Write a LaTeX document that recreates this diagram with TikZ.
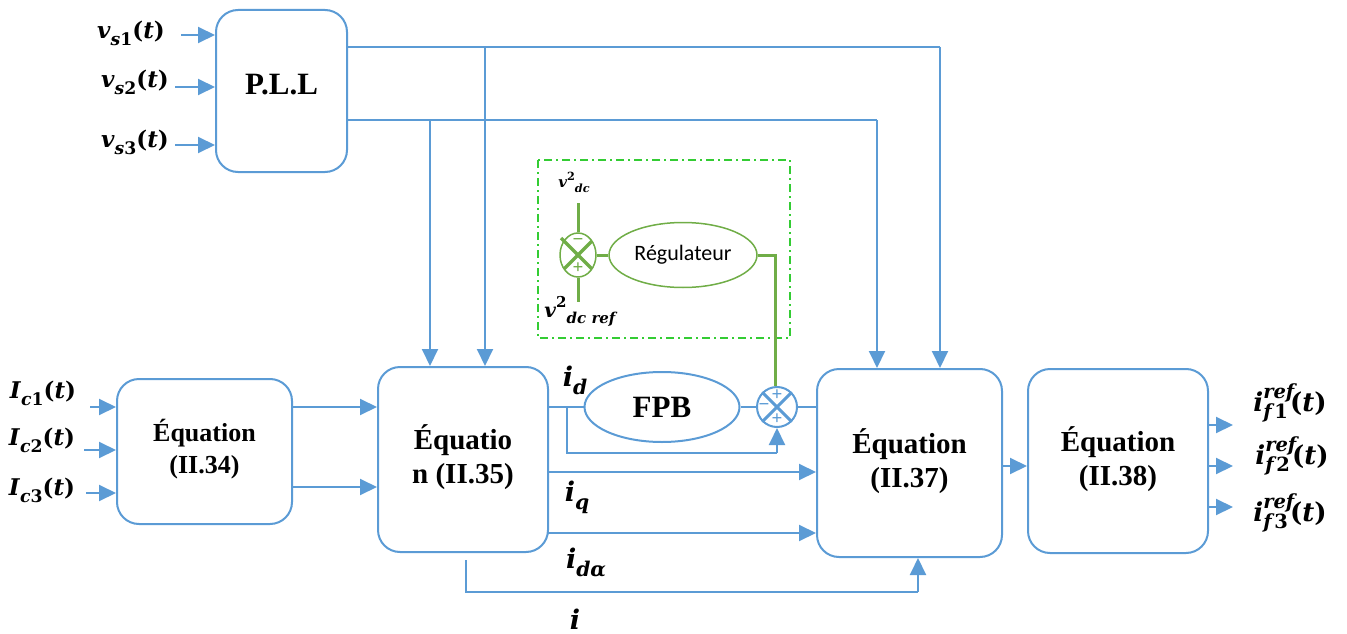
\documentclass[tikz,border=0pt]{standalone}
\usepackage{fontspec}
\setmainfont{Liberation Serif}
\newfontfamily\calib{Carlito}
\newfontfamily\mfont{DejaVu Serif}
\usetikzlibrary{arrows.meta,shapes.geometric,calc}
\definecolor{bl}{HTML}{5B9BD5}
\definecolor{gr}{HTML}{70AD47}
\definecolor{gd}{HTML}{33CC33}
\makeatletter
\newcommand{\relsz}[1]{\fontsize{\strip@pt\dimexpr#1\dimexpr\f@size pt\relax\relax}{0pt}\selectfont}
\makeatother
\newcommand{\ti}[1]{\textit{#1}}
\newcommand{\lsub}[1]{\raisebox{-0.3em}{\relsz{0.75}#1}}
\newcommand{\lsup}[1]{\raisebox{0.5em}{\relsz{0.75}#1}}
\newcommand{\lsupsub}[2]{\rlap{\lsup{#1}}\lsub{#2}\hspace{2pt}}
\tikzset{
 blk/.style={draw=bl, line width=2pt, rounded corners=22pt, align=center, font=\fontsize{29}{34}\selectfont\bfseries},
 arr/.style={draw=bl, line width=2pt, -{Triangle[length=17pt,width=16pt]}},
 ln/.style={draw=bl, line width=2pt},
 gln/.style={draw=gr, line width=3pt},
 lab/.style={font=\mfont\fontsize{23}{26}\selectfont\bfseries, inner sep=1pt},
 blab/.style={font=\mfont\fontsize{27}{29}\selectfont\bfseries, inner sep=1pt},
 sgn/.style={font=\fontsize{19}{19}\selectfont\bfseries, inner sep=0pt},
}
\begin{document}
\begin{tikzpicture}[x=1pt,y=-1pt]
\useasboundingbox (0,0) rectangle (1347,634);
% blocks
\node[blk, minimum width=131pt, minimum height=162pt, font=\fontsize{31}{34}\selectfont\bfseries] (pll) at (281.5,91) {\raisebox{14pt}{P.L.L}};
\node[blk, minimum width=175pt, minimum height=145pt, font=\fontsize{26}{32}\selectfont\bfseries] (e34) at (204.5,451.5) {\raisebox{6pt}{\begin{tabular}{c}Équation\\(II.34)\end{tabular}}};
\node[blk, minimum width=170pt, minimum height=185pt] (e35) at (463,459.5) {\raisebox{12pt}{\begin{tabular}{c}Équatio\\n (II.35)\end{tabular}}};
\node[blk, minimum width=185pt, minimum height=188pt] (e37) at (909.5,463) {\raisebox{12pt}{\begin{tabular}{c}Équation\\(II.37)\end{tabular}}};
\node[blk, minimum width=180pt, minimum height=184pt] (e38) at (1118,461) {\raisebox{10pt}{\begin{tabular}{c}Équation\\(II.38)\end{tabular}}};
% FPB and sum
\node[draw=bl, line width=2pt, ellipse, minimum width=155pt, minimum height=70pt, font=\fontsize{31}{32}\selectfont\bfseries] (fpb) at (662,407) {FPB};
\node[draw=bl, line width=2pt, circle, minimum size=40pt, inner sep=0pt] (s1) at (777,407) {};
\draw[bl, line width=3pt] (s1.north west) -- (s1.south east) (s1.north east) -- (s1.south west);
\node[sgn, text=bl] (s1a) at ($(s1.center)+(0,-12)$) {+};
\node[sgn, text=bl] (s1b) at ($(s1.center)+(0,12)$) {+};
\node[sgn, text=bl] (s1c) at ($(s1.center)+(-13,0)$) {\textminus};
% green regulator block
\draw[gd, line width=1.5pt, dash pattern=on 8pt off 4pt on 2pt off 4pt] (538,160) rectangle (790,338);
\node[draw=gr, line width=1.5pt, ellipse, minimum width=148pt, minimum height=65pt, font=\calib\fontsize{22}{24}\selectfont] (reg) at (683,255) {Régulateur};
\node[draw=gr, line width=1.5pt, ellipse, minimum width=36pt, minimum height=44pt, inner sep=0pt] (s2) at (578,255) {};
\draw[gr, line width=3.5pt] ($(s2.center)+(-17,-17)$) -- ($(s2.center)+(14,14)$) ($(s2.center)+(14,-14)$) -- ($(s2.center)+(-14,14)$);
\node[sgn, text=gr] (s2a) at ($(s2.center)+(0,-13)$) {\textminus};
\node[sgn, text=gr] (s2b) at ($(s2.center)+(0,13)$) {+};
\node[lab, font=\mfont\fontsize{15}{17}\selectfont\bfseries] (vdc) at (574,182) {\ti{v}\lsup{2}\lsub{\ti{dc}}};
\node[lab, font=\mfont\fontsize{20}{22}\selectfont\bfseries] (vdcref) at (581,311) {\ti{v}\lsup{2}\lsub{\ti{dc ref}}};
\coordinate (vdctop) at (578,203);
\coordinate (vdcbot) at (578,302);
\draw[gln] (vdctop) -- (s2.north);
\draw[gln] (s2.south) -- (vdcbot);
\draw[gln] (s2.east) -- (reg.west);
\coordinate (gk) at (775,255);
\draw[gln] (reg.east) -- (gk) -- (s1.north -| gk);
% PLL inputs
\node[lab] (vs1) at (131,33) {\ti{v}\lsub{\ti{s}1}(\ti{t})};
\node[lab] (vs2) at (135,82) {\ti{v}\lsub{\ti{s}2}(\ti{t})};
\node[lab] (vs3) at (135,142) {\ti{v}\lsub{\ti{s}3}(\ti{t})};
\coordinate (a1) at (181,35);
\coordinate (a2) at (175,87);
\coordinate (a3) at (175,145);
\draw[arr] (a1) -- (a1 -| pll.west);
\draw[arr] (a2) -- (a2 -| pll.west);
\draw[arr] (a3) -- (a3 -| pll.west);
% PLL outputs
\coordinate (p1) at (347,47);
\coordinate (p2) at (347,120);
\coordinate (b1) at (485,47);
\coordinate (b2) at (430,120);
\coordinate (c1) at (940,47);
\coordinate (c2) at (877,120);
\draw[ln] (p1) -- (c1);
\draw[arr] (c1) -- (c1 |- e37.north);
\draw[arr] (b1) -- (b1 |- e35.north);
\draw[ln] (p2) -- (c2);
\draw[arr] (c2) -- (c2 |- e37.north);
\draw[arr] (b2) -- (b2 |- e35.north);
% Ic inputs
\node[lab] (ic1) at (43,393) {\ti{I}\lsub{\ti{c}1}(\ti{t})};
\node[lab] (ic2) at (42,440) {\ti{I}\lsub{\ti{c}2}(\ti{t})};
\node[lab] (ic3) at (42,490) {\ti{I}\lsub{\ti{c}3}(\ti{t})};
\coordinate (d1) at (90,407);
\coordinate (d2) at (84,450);
\coordinate (d3) at (86,493);
\draw[arr] (d1) -- (d1 -| e34.west);
\draw[arr] (d2) -- (d2 -| e34.west);
\draw[arr] (d3) -- (d3 -| e34.west);
% 34 -> 35
\coordinate (f1) at (292,407);
\coordinate (f2) at (292,487);
\draw[arr] (f1) -- (f1 -| e35.west);
\draw[arr] (f2) -- (f2 -| e35.west);
% id path
\coordinate (g0) at (548,407);
\draw[ln] (g0) -- (fpb.west);
\draw[ln] (fpb.east) -- (s1.west);
\draw[ln] (s1.east) -- (s1.east -| e37.west);
\coordinate (g1) at (567,407);
\coordinate (g2) at (567,453);
\draw[ln] (g1) -- (g2) -- (g2 -| s1.south);
\draw[arr] (g2 -| s1.south) -- (s1.south);
% iq, idalpha
\coordinate (h1) at (548,472);
\coordinate (h2) at (548,533);
\draw[arr] (h1) -- (h1 -| e37.west);
\draw[arr] (h2) -- (h2 -| e37.west);
% i path
\coordinate (k1) at (466,560);
\coordinate (k2) at (466,592);
\coordinate (k3) at (918,592);
\draw[ln] (k1) -- (k2) -- (k3);
\draw[arr] (k3) -- (k3 |- e37.south);
% 37 -> 38
\coordinate (m1) at (1002,466);
\draw[arr] (m1) -- (m1 -| e38.west);
% outputs
\coordinate (o1) at (1208,425);
\coordinate (o2) at (1208,466);
\coordinate (o3) at (1208,507);
\coordinate (q1) at (1233,425);
\coordinate (q2) at (1233,466);
\coordinate (q3) at (1233,507);
\draw[arr] (o1) -- (q1);
\draw[arr] (o2) -- (q2);
\draw[arr] (o3) -- (q3);
\node[lab, font=\mfont\fontsize{26}{28}\selectfont\bfseries] (if1) at (1290,403) {\ti{i}\lsupsub{\ti{ref}}{\ti{f}1}(\ti{t})};
\node[lab, font=\mfont\fontsize{26}{28}\selectfont\bfseries] (if2) at (1292,456) {\ti{i}\lsupsub{\ti{ref}}{\ti{f}2}(\ti{t})};
\node[lab, font=\mfont\fontsize{26}{28}\selectfont\bfseries] (if3) at (1290,513) {\ti{i}\lsupsub{\ti{ref}}{\ti{f}3}(\ti{t})};
% current labels
\node[blab] (lid) at (575,380) {\ti{i}\lsub{\ti{d}}};
\node[blab] (liq) at (577,497) {\ti{i}\lsub{\ti{q}}};
\node[blab] (lida) at (586,563) {\ti{i}\lsub{\ti{dα}}};
\node[blab] (li) at (575,619) {\ti{i}};
\end{tikzpicture}
\end{document}
